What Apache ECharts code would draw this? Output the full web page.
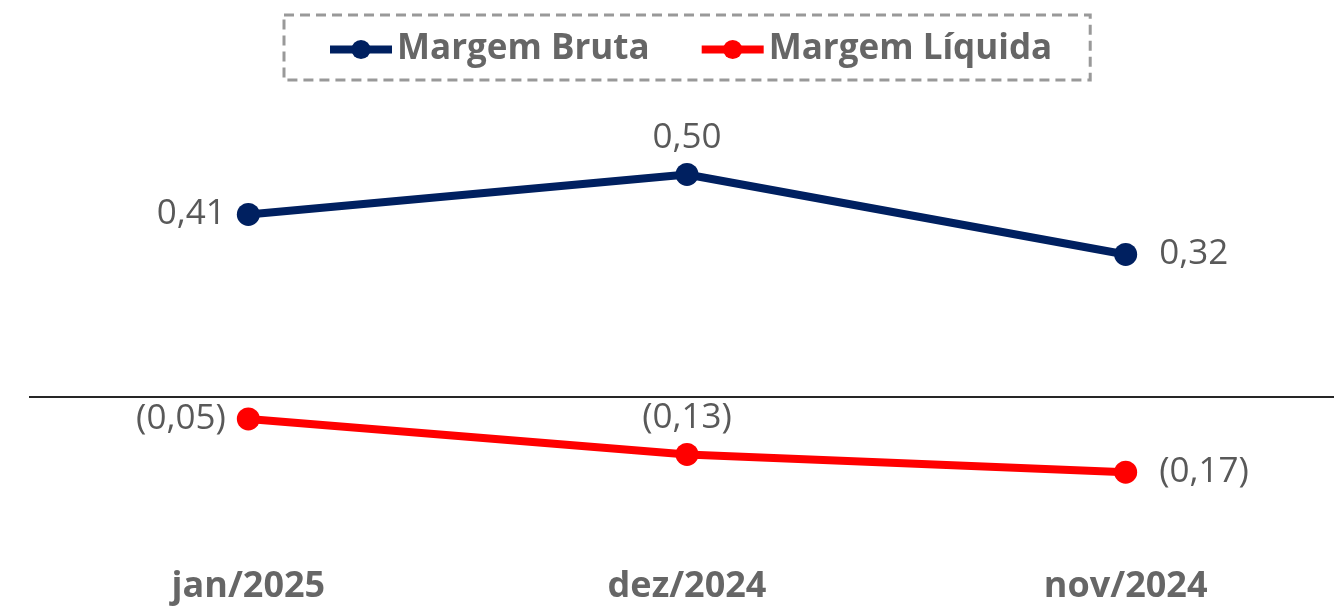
<!DOCTYPE html>
<html><head><meta charset="utf-8">
<script src="https://cdn.jsdelivr.net/npm/echarts@6/dist/echarts.min.js"></script>
<style>html,body{margin:0;padding:0;background:#fff}#c{width:1334px;height:606px}</style>
</head><body><div id="c"></div>
<script>
const categories = ['jan/2025', 'dez/2024', 'nov/2024'];
const margemBruta = [0.41, 0.50, 0.32];
const margemLiquida = [-0.05, -0.13, -0.17];
const seriesNames = ['Margem Bruta', 'Margem Líquida'];
const labelPositions = ['left', 'top', 'right'];

const FONT = 'Open Sans';
function fmt(v) {
  const s = Math.abs(v).toFixed(2).replace('.', ',');
  return v < 0 ? '(' + s + ')' : s;
}
function withLabels(vals) {
  return vals.map((v, i) => ({
    value: v,
    label: { position: labelPositions[i], distance: labelPositions[i] === 'right' ? 22 : (labelPositions[i] === 'left' ? 11 : 7) }
  }));
}
const chart = echarts.init(document.getElementById('c'), null, { renderer: 'canvas' });
chart.setOption({
  animation: false,
  backgroundColor: '#ffffff',
  legend: {
    top: 15, left: 284,
    padding: [17, 38, 13, 42],
    borderColor: '#999999', borderWidth: 3, borderType: [10, 6],
    itemWidth: 62, itemHeight: 24, itemGap: 48,
    lineStyle: { width: 8 },
    textStyle: { fontFamily: FONT, fontWeight: 'bold', fontSize: 35, color: '#666666' },
    data: seriesNames
  },
  grid: { left: 29, width: 1316, top: 130, height: 400, outerBoundsMode: 'none', containLabel: false },
  xAxis: {
    type: 'category', data: categories, boundaryGap: true,
    axisLine: { show: false }, axisTick: { show: false },
    axisLabel: { margin: 39, fontFamily: FONT, fontWeight: 'bold', fontSize: 36, color: '#666666' }
  },
  yAxis: { type: 'value', min: -0.3, max: 0.6, show: false, splitLine: { show: false } },
  series: [
    {
      name: seriesNames[0], type: 'line', data: withLabels(margemBruta),
      color: '#002060', symbol: 'circle', symbolSize: 23,
      lineStyle: { width: 8, color: '#002060' },
      label: { show: true, formatter: p => fmt(p.value), fontFamily: FONT, fontSize: 35, color: '#595959' },
      markLine: {
        silent: true, symbol: 'none', label: { show: false },
        lineStyle: { color: '#262626', width: 2, type: 'solid' },
        data: [{ yAxis: 0 }]
      },
      z: 3
    },
    {
      name: seriesNames[1], type: 'line', data: withLabels(margemLiquida),
      color: '#FF0000', symbol: 'circle', symbolSize: 23,
      lineStyle: { width: 8, color: '#FF0000' },
      label: { show: true, formatter: p => fmt(p.value), fontFamily: FONT, fontSize: 35, color: '#595959' },
      z: 3
    }
  ]
});
</script></body></html>
